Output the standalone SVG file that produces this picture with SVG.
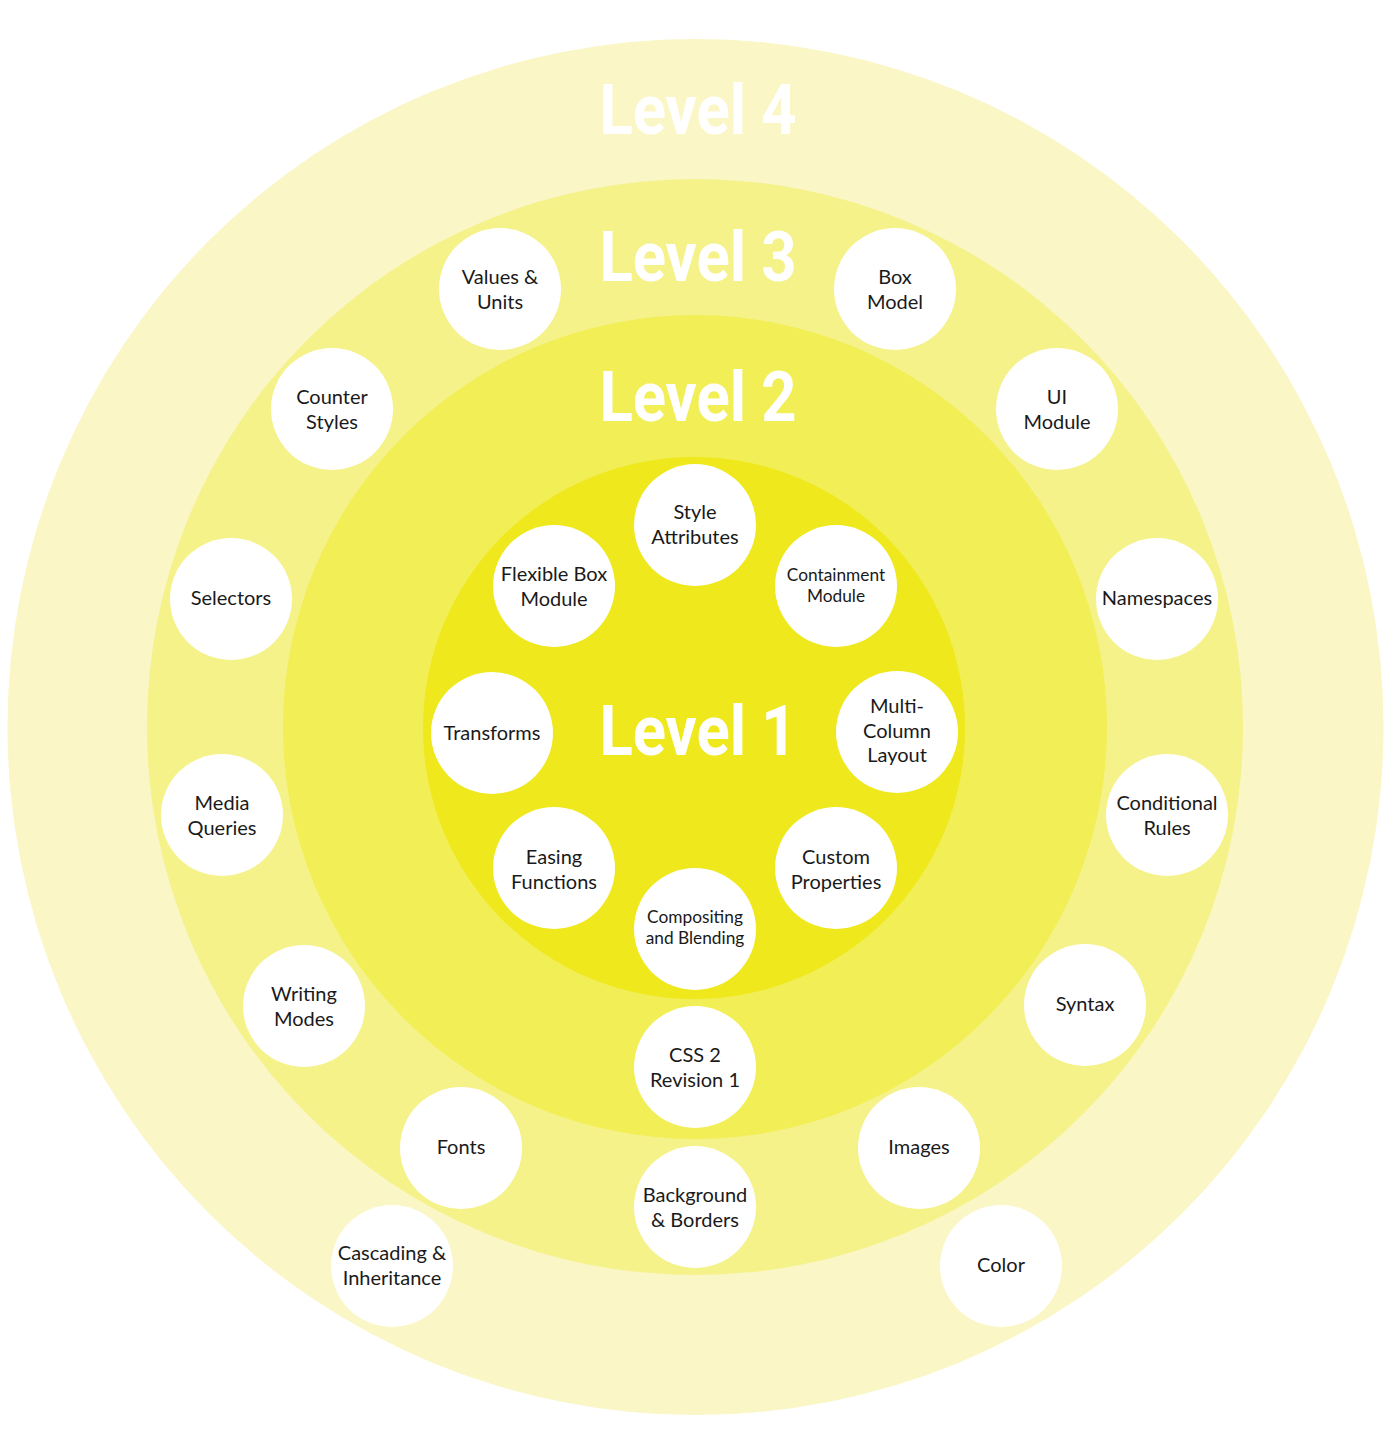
<svg xmlns="http://www.w3.org/2000/svg" width="1400" height="1443" viewBox="0 0 1400 1443">
<style>
.node circle{fill:#ffffff}
.node text{font-family:Lato,"Open Sans","DejaVu Sans",sans-serif;font-size:20px;fill:#1a1a1a;text-anchor:middle}
.node text.sm{font-size:17.3px}
.lvl{font-family:Roboto,"Liberation Sans",sans-serif;font-weight:bold;font-size:70px;fill:#ffffff;text-anchor:middle}
</style>
<rect width="1400" height="1443" fill="#ffffff"/>
<g id="rings">
<circle id="ring4" cx="695.5" cy="727" r="688" fill="#faf6c5"/>
<circle id="ring3" cx="695" cy="727" r="548" fill="#f5f28a"/>
<circle id="ring2" cx="695" cy="727" r="412" fill="#f2ee55"/>
<circle id="ring1" cx="694" cy="728" r="271" fill="#eee81c"/>
</g>
<g id="titles">
<text class="lvl" transform="translate(698 134) scale(0.88 1)">Level 4</text>
<text class="lvl" transform="translate(698 281) scale(0.88 1)">Level 3</text>
<text class="lvl" transform="translate(698 421) scale(0.88 1)">Level 2</text>
<text class="lvl" transform="translate(698 755) scale(0.88 1)">Level 1</text>
</g>
<g id="connectors"></g>
<g id="n-style" class="node"><circle cx="695" cy="525" r="61"/><text x="695" y="519">Style</text><text x="695" y="543.5">Attributes</text></g>
<g id="n-containment" class="node"><circle cx="836" cy="586" r="61"/><text class="sm" x="836" y="581">Containment</text><text class="sm" x="836" y="602">Module</text></g>
<g id="n-multicol" class="node"><circle cx="897" cy="732" r="61"/><text x="897" y="713">Multi-</text><text x="897" y="737.5">Column</text><text x="897" y="762">Layout</text></g>
<g id="n-custom" class="node"><circle cx="836" cy="868" r="61"/><text x="836" y="864">Custom</text><text x="836" y="888.5">Properties</text></g>
<g id="n-compositing" class="node"><circle cx="695" cy="929" r="61"/><text class="sm" x="695" y="923">Compositing</text><text class="sm" x="695" y="944">and Blending</text></g>
<g id="n-easing" class="node"><circle cx="554" cy="868" r="61"/><text x="554" y="864">Easing</text><text x="554" y="888.5">Functions</text></g>
<g id="n-transforms" class="node"><circle cx="492" cy="733" r="61"/><text x="492" y="740">Transforms</text></g>
<g id="n-flexbox" class="node"><circle cx="554" cy="586" r="61"/><text x="554" y="581">Flexible Box</text><text x="554" y="605.5">Module</text></g>
<g id="n-values" class="node"><circle cx="500" cy="289" r="61"/><text x="500" y="284">Values &amp;</text><text x="500" y="308.5">Units</text></g>
<g id="n-boxmodel" class="node"><circle cx="895" cy="289" r="61"/><text x="895" y="284">Box</text><text x="895" y="308.5">Model</text></g>
<g id="n-ui" class="node"><circle cx="1057" cy="409" r="61"/><text x="1057" y="404">UI</text><text x="1057" y="428.5">Module</text></g>
<g id="n-namespaces" class="node"><circle cx="1157" cy="599" r="61"/><text x="1157" y="605">Namespaces</text></g>
<g id="n-conditional" class="node"><circle cx="1167" cy="815" r="61"/><text x="1167" y="810">Conditional</text><text x="1167" y="834.5">Rules</text></g>
<g id="n-syntax" class="node"><circle cx="1085" cy="1005" r="61"/><text x="1085" y="1011">Syntax</text></g>
<g id="n-images" class="node"><circle cx="919" cy="1148" r="61"/><text x="919" y="1154">Images</text></g>
<g id="n-css2" class="node"><circle cx="695" cy="1067" r="61"/><text x="695" y="1062">CSS 2</text><text x="695" y="1086.5">Revision 1</text></g>
<g id="n-fonts" class="node"><circle cx="461" cy="1148" r="61"/><text x="461" y="1154">Fonts</text></g>
<g id="n-writing" class="node"><circle cx="304" cy="1006" r="61"/><text x="304" y="1001">Writing</text><text x="304" y="1025.5">Modes</text></g>
<g id="n-media" class="node"><circle cx="222" cy="815" r="61"/><text x="222" y="810">Media</text><text x="222" y="834.5">Queries</text></g>
<g id="n-selectors" class="node"><circle cx="231" cy="599" r="61"/><text x="231" y="605">Selectors</text></g>
<g id="n-counter" class="node"><circle cx="332" cy="409" r="61"/><text x="332" y="404">Counter</text><text x="332" y="428.5">Styles</text></g>
<g id="n-background" class="node"><circle cx="695" cy="1207" r="61"/><text x="695" y="1202">Background</text><text x="695" y="1226.5">&amp; Borders</text></g>
<g id="n-cascading" class="node"><circle cx="392" cy="1266" r="61"/><text x="392" y="1260">Cascading &amp;</text><text x="392" y="1284.5">Inheritance</text></g>
<g id="n-color" class="node"><circle cx="1001" cy="1266" r="61"/><text x="1001" y="1272">Color</text></g>
</svg>
